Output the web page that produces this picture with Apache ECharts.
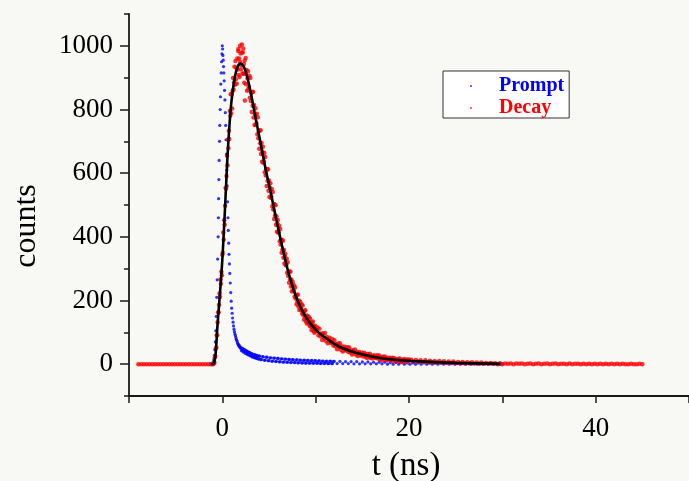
<!DOCTYPE html>
<html>
<head>
<meta charset="utf-8">
<script src="https://cdn.jsdelivr.net/npm/echarts@6/dist/echarts.min.js"></script>
<style>
html,body{margin:0;padding:0;background:#f8f9f5;}
#chart{width:689px;height:481px;}
</style>
</head>
<body>
<div id="chart"></div>
<script>
// ---- data ----
const xTickLabels = [0, 20, 40];
const yTickLabels = [0, 200, 400, 600, 800, 1000];

const promptPoints = [
[-1.3,0],[-1.2,1],[-1.1,2],[-1.0,4],[-0.95,8],[-0.9,15],[-0.85,28],[-0.8,45],[-0.75,70],[-0.7,105],[-0.65,150],[-0.6,210],[-0.55,265],[-0.5,330],[-0.45,400],[-0.42,460],[-0.4,520],[-0.37,580],[-0.34,640],[-0.3,700],[-0.27,750],[-0.23,800],[-0.2,840],[-0.16,880],[-0.12,915],[-0.08,950],[-0.04,975],[0,1000],
[0.03,990],[0.06,970],[0.1,955],[0.13,935],[0.16,915],[0.2,890],[0.24,860],[0.28,830],[0.32,790],[0.36,750],[0.4,705],[0.44,660],[0.48,610],[0.52,560],[0.56,510],[0.6,460],[0.64,420],[0.68,380],[0.72,345],[0.76,315],[0.8,285],[0.85,255],[0.9,225],[0.95,198],[1.0,176],[1.05,160],[1.1,145],[1.15,132],[1.2,120],[1.25,110],[1.3,102],[1.35,95],[1.4,90],[1.45,84],[1.5,78],[1.55,74],[1.6,70],[1.65,65],[1.7,62],[1.75,58],[1.8,60],[1.85,54],[1.9,55],[1.95,50],
[2.0,52],[2.1,45],[2.2,49],[2.3,41],[2.4,45],[2.5,37],[2.6,41],[2.7,33],[2.8,38],[2.9,30],[3.0,35],[3.1,27],[3.2,32],[3.3,24],[3.4,30],[3.5,21],[3.6,28],[3.7,19],[3.8,26],[3.9,17],[4.0,25],[4.2,15],[4.4,23],[4.6,13],[4.8,22],[5.0,11],[5.2,20],[5.4,10],[5.6,19],[5.8,9],[6.0,18],[6.2,8],[6.4,17],[6.6,7],[6.8,16],[7.0,6],[7.2,15],[7.4,6],[7.6,14],[7.8,5],[8.0,14],[8.2,5],[8.4,13],[8.6,4],[8.8,13],[9.0,4],[9.2,12],[9.4,4],[9.6,12],[9.8,3],[10.0,11],[10.2,3],[10.4,11],[10.6,3],[10.8,10],[11.0,3],[11.2,10],[11.4,2],[11.6,10],[11.8,2],[12.0,9],
[2.05,42],[2.15,50],[2.25,38],[2.35,46],[2.45,34],[2.55,43],[2.65,31],[2.75,39],[2.85,28],[2.95,36],[3.05,25],[3.15,33],[3.25,22],[3.35,31],[3.45,20],[3.55,29],[3.65,18],[3.75,27],[3.85,16],[3.95,25],[4.1,14],[4.3,24],[4.5,12],[4.7,22],[4.9,11],[5.1,20],[5.3,9],[5.5,19],[5.7,8],[5.9,18],[6.1,7],[6.3,17],[6.5,6],[6.7,16],[6.9,6],[7.1,15],[7.3,5],[7.5,14],[7.7,5],[7.9,13],[8.1,4],[8.3,13],[8.5,4],[8.7,12],[8.9,3],[9.1,12],[9.3,3],[9.5,11],[9.7,3],[9.9,11],[10.1,3],[10.3,10],[10.5,2],[10.7,10],[10.9,2],[11.1,9],[11.3,2],[11.5,9],[11.7,2],[11.9,9],
[12.3,2],[12.6,9],[12.9,2],[13.2,8],[13.5,2],[13.8,8],[14.1,1],[14.4,8],[14.7,1],[15.0,7],[15.3,1],[15.6,7],[15.9,1],[16.2,6],[16.5,1],[16.8,6],[17.1,1],[17.4,6],[17.7,0],[18.0,5],[18.3,0],[18.6,5],[18.9,0],[19.2,5],[19.5,0],[19.8,4],[20.1,0],[20.4,4],[20.7,0],[21.0,4],[21.3,0],[21.6,4],[21.9,0],[22.2,3],[22.5,0],[22.8,3],[23.1,0],[23.4,3],[23.7,0],[24.0,3],[24.3,0],[24.6,2],[24.9,0],[25.2,2],[25.5,0],[25.8,2],[26.1,0],[26.4,2],[26.7,0],[27.0,2],[27.3,0],[27.6,1],[27.9,0],[28.2,1],[28.5,0],[28.8,1],[29.1,0],[29.4,1],[29.7,0],[30.0,1]
];

const decayPoints = [
[-9,0],[-8.7,0],[-8.4,0],[-8.1,0],[-7.8,0],[-7.5,0],[-7.2,0],[-6.9,0],[-6.6,0],[-6.3,0],[-6,0],[-5.7,0],[-5.4,0],[-5.1,0],[-4.8,0],[-4.5,0],[-4.2,0],[-3.9,0],[-3.6,0],[-3.3,0],[-3,0],[-2.7,0],[-2.4,0],[-2.1,0],[-1.8,0],[-1.5,0],[-1.2,0],
[-1.0,0],[-0.95,1],[-0.9,4],[-0.85,5],[-0.8,22],[-0.75,26],[-0.7,49],[-0.65,52],[-0.6,91],[-0.55,91],[-0.5,132],[-0.45,163],[-0.4,162],[-0.35,186],[-0.3,222],[-0.25,211],
[-0.2,266],[-0.15,253],[-0.1,290],[-0.05,279],[0,344],[0.05,350],[0.1,414],[0.15,391],[0.2,452],[0.25,438],[0.3,498],[0.35,554],[0.4,551],[0.45,591],[0.5,655],[0.55,625],
[0.6,705],[0.65,678],[0.7,733],[0.75,707],[0.8,795],[0.85,780],[0.9,848],[0.95,788],[1.0,847],[1.05,803],[1.1,859],[1.15,899],[1.2,862],[1.25,885],[1.3,934],[1.35,878],
[1.4,952],[1.45,895],[1.5,931],[1.55,881],[1.6,960],[1.65,926],[1.7,984],[1.75,908],[1.8,960],[1.85,902],[1.9,949],[1.95,976],[2.0,926],[2.05,938],[2.1,979],[2.15,912],
[2.2,979],[2.25,913],[2.3,943],[2.35,884],[2.4,954],[2.42,828],[2.45,912],[2.5,962],[2.55,879],[2.6,924],[2.65,859],[2.7,898],[2.75,920],[2.8,864],[2.85,871],[2.9,906],[2.95,837],
[1.9,1000],[2.1,1004],[1.72,990],[2.25,992],
[3.0,899],[3.05,827],[3.1,852],[3.15,792],[3.2,854],[3.25,812],[3.3,856],[3.35,775],[3.4,814],[3.45,751],[3.5,786],[3.55,804],[3.6,751],[3.65,757],[3.7,787],[3.75,722],
[3.8,776],[3.85,710],[3.9,732],[3.95,677],[4.0,734],[4.05,694],[4.1,735],[4.15,660],[4.2,695],[4.25,636],[4.3,667],[4.35,683],[4.4,633],[4.45,637],[4.5,663],[4.55,603],
[4.6,651],[4.65,593],[4.7,611],[4.75,560],[4.8,612],[4.85,576],[4.9,612],[4.95,545],[5.0,577],[5.05,525],[5.1,554],[5.15,568],[5.2,523],[5.25,527],[5.3,550],[5.35,496],
[5.4,541],[5.45,486],[5.5,503],[5.55,456],[5.6,502],[5.65,467],[5.7,499],[5.75,438],[5.8,465],[5.85,416],[5.9,441],[5.95,453],[6.0,413],[6.05,415],[6.1,435],[6.15,386],
[6.2,425],[6.25,376],[6.3,391],[6.35,350],[6.4,390],[6.45,360],[6.5,388],[6.55,334],[6.6,359],[6.65,316],[6.7,338],[6.75,347],[6.8,311],[6.85,313],[6.9,331],[6.95,287],
[7.0,320],[7.05,278],[7.1,291],[7.15,256],[7.2,291],[7.25,266],[7.3,290],[7.35,244],[7.4,266],[7.45,229],[7.5,249],[7.55,258],[7.6,229],[7.65,231],[7.7,247],[7.75,212],
[7.8,241],[7.85,206],[7.9,217],[7.95,188],[8.0,218],[8.05,197],[8.1,218],[8.15,181],[8.2,200],[8.25,170],[8.3,187],[8.35,196],[8.4,171],[8.45,174],[8.5,188],[8.55,159],
[8.6,184],[8.65,155],[8.7,165],[8.75,140],[8.8,167],[8.85,149],[8.9,169],[8.95,135],[9.0,153],[9.05,128],[9.1,143],[9.15,151],[9.2,130],[9.25,133],[9.3,147],[9.35,121],
[9.4,143],[9.45,119],[9.5,128],[9.55,107],[9.6,132],[9.65,117],[9.7,134],[9.75,105],[9.8,121],[9.85,99],[9.9,114],[9.95,121],[10.0,103],
[10.1,105],[10.2,115],[10.3,91],[10.4,111],[10.5,88],[10.6,96],[10.7,76],[10.8,96],[10.9,83],[11.0,98],[11.1,73],[11.2,85],[11.3,66],[11.4,77],[11.5,83],[11.6,67],[11.7,69],[11.8,78],[11.9,59],
[12.0,75],[12.1,56],[12.2,63],[12.3,47],[12.4,65],[12.5,54],[12.6,66],[12.7,45],[12.8,56],[12.9,40],[13.0,50],[13.1,55],[13.2,43],[13.3,45],[13.4,53],[13.5,38],[13.6,52],[13.7,37],[13.8,43],[13.9,30],
[14.0,44],[14.1,36],[14.2,46],[14.3,30],[14.4,39],[14.5,26],[14.6,34],[14.7,38],[14.8,27],[14.9,30],[15.0,36],[15.1,24],[15.2,36],[15.3,24],[15.4,30],[15.5,19],[15.6,32],[15.7,24],[15.8,33],[15.9,19],
[16.0,27],[16.1,18],[16.2,24],[16.3,28],[16.4,19],[16.5,21],[16.6,28],[16.7,17],[16.8,27],[16.9,16],[17.0,21],[17.1,12],[17.2,23],[17.3,18],[17.4,24],[17.5,14],[17.6,20],[17.7,12],[17.8,18],[17.9,20],
[18.0,14],[18.1,15],[18.2,20],[18.3,11],[18.4,19],[18.5,11],[18.6,15],[18.7,8],[18.8,16],[18.9,12],[19.0,18],[19.1,9],[19.2,14],[19.3,7],[19.4,13],[19.5,16],[19.6,10],[19.7,11],[19.8,15],[19.9,8],[20.0,15],
[20.25,14],[20.5,8],[20.75,13],[21,8],[21.25,12],[21.5,7],[21.75,12],[22,6],[22.25,11],[22.5,6],[22.75,10],[23,5],[23.25,10],[23.5,5],[23.75,9],[24,4],[24.25,8],[24.5,4],[24.75,8],[25,3],[25.25,7],[25.5,3],[25.75,7],[26,2],[26.25,6],[26.5,2],[26.75,6],[27,2],[27.25,5],[27.5,1],[27.75,5],[28,1],[28.25,4],[28.5,1],[28.75,4],[29,1],[29.25,3],[29.5,0],[29.75,3],[30,0],
[30.3,2],[30.6,1],[30.9,2],[31.2,0],[31.5,2],[31.8,1],[32.1,2],[32.4,0],[32.7,1],[33,2],[33.3,0],[33.6,1],[33.9,2],[34.2,0],[34.5,1],[34.8,2],[35.1,0],[35.4,1],[35.7,2],[36,0],[36.3,1],[36.6,1],[36.9,0],[37.2,2],[37.5,0],[37.8,1],[38.1,1],[38.4,0],[38.7,1],[39,0],[39.3,1],[39.6,0],[39.9,1],[40.2,0],[40.5,1],[40.8,0],[41.1,1],[41.4,0],[41.7,1],[42,0],[42.3,1],[42.6,0],[42.9,1],[43.2,0],[43.5,0],[43.8,1],[44.1,0],[44.4,0],[44.7,1],[45,0]
];

const fitPoints = [
[-1.2,0],[-0.9,3],[-0.7,40],[-0.53,118],[-0.25,224],[0,328],[0.28,485],[0.53,640],[0.75,745],[0.98,826],[1.33,900],[1.65,935],[1.97,944],[2.3,935],[2.6,910],[3.0,860],[3.3,815],[3.6,768],[4.0,710],[4.3,663],[4.7,604],[5.2,537],[5.8,452],[6.3,385],[6.95,303],[7.5,247],[8.0,205],[8.7,161],[9.4,129],[10.3,100],[11.2,80],[12.0,64],[12.9,50],[14.5,34],[16.4,22],[18.5,14],[21.7,8],[25,4],[29.8,1]
];

const serif = '"Liberation Serif", "DejaVu Serif", serif';
const axisColor = '#1a1a1a';

const chart = echarts.init(document.getElementById('chart'), null, {renderer: 'canvas'});
chart.setOption({
  animation: false,
  backgroundColor: '#f8f9f5',
  grid: {left: 129, top: 14, width: 570, height: 382, containLabel: false},
  xAxis: [{
    type: 'value', min: -10, max: 50, interval: 10,
    axisLine: {show: true, onZero: false, lineStyle: {color: axisColor, width: 1.8}},
    axisTick: {show: true, inside: false, length: 7, lineStyle: {color: axisColor, width: 1.5}},
    axisLabel: {customValues: xTickLabels, fontFamily: serif, fontSize: 27, color: '#000', margin: 19,
      formatter: v => String(v)},
    splitLine: {show: false}
  }],
  yAxis: [{
    type: 'value', min: -100, max: 1100, interval: 100, position: 'left',
    axisLine: {show: true, onZero: false, lineStyle: {color: axisColor, width: 1.8}},
    axisTick: {show: true, inside: false, length: 5, lineStyle: {color: axisColor, width: 1.5}},
    axisLabel: {customValues: yTickLabels, fontFamily: serif, fontSize: 27, color: '#000', margin: 16,
      formatter: v => String(v)},
    splitLine: {show: false}
  }, {
    type: 'value', min: -100, max: 1100, interval: 100, position: 'left', offset: 0,
    axisLine: {show: false, onZero: false},
    axisTick: {show: true, inside: false, length: 9, customValues: yTickLabels, lineStyle: {color: axisColor, width: 1.5}},
    axisLabel: {show: false},
    splitLine: {show: false}
  }],
  legend: {
    orient: 'vertical', left: 443, top: 71,
    padding: [5, 5, 0, 27], itemGap: 2, itemWidth: 46, itemHeight: 2,
    backgroundColor: '#ffffff', borderColor: '#333', borderWidth: 1, borderRadius: 0,
    textStyle: {fontFamily: serif, fontSize: 20, fontWeight: 'bold', lineHeight: 20},
    data: [
      {name: 'Prompt', icon: 'circle', textStyle: {color: '#0000ff'}},
      {name: 'Decay', icon: 'circle', textStyle: {color: '#ff0000'}}
    ]
  },
  graphic: [
    {type: 'text', x: 27, y: 226, rotation: Math.PI / 2,
      style: {text: 'counts', font: '32px ' + serif, fill: '#000', textAlign: 'center', textVerticalAlign: 'middle'}},
    {type: 'text', x: 406, y: 466,
      style: {text: 't (ns)', font: '33px ' + serif, fill: '#000', textAlign: 'center', textVerticalAlign: 'middle'}}
  ],
  series: [
    {name: 'Prompt', type: 'scatter', data: promptPoints, symbol: 'circle', symbolSize: 3.2,
      itemStyle: {color: '#0000ff'}, z: 2},
    {name: 'Decay', type: 'scatter', data: decayPoints, symbol: 'circle', symbolSize: 4.5,
      itemStyle: {color: '#ff0000'}, z: 3},
    {name: 'Fit', type: 'line', data: fitPoints, smooth: 0.3, showSymbol: false, symbol: 'none',
      lineStyle: {color: '#000', width: 2.6}, z: 4}
  ]
});
</script>
</body>
</html>
